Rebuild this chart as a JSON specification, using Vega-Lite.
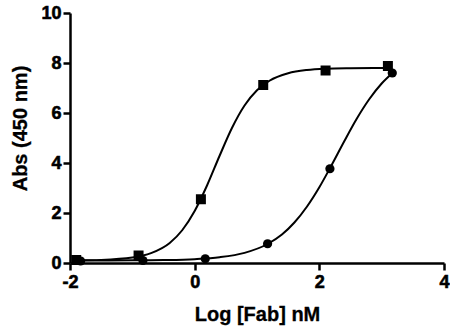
{
  "$schema": "https://vega.github.io/schema/vega-lite/v6.json",
  "width": 374,
  "height": 250,
  "autosize": {"type": "none"},
  "padding": {"left": 70, "top": 13, "right": 6, "bottom": 66},
  "background": "white",
  "config": {
    "view": {"stroke": null},
    "font": "Liberation Sans",
    "style": {
      "guide-label": {"font": "Liberation Sans", "fontWeight": "bold", "fontSize": 18, "fill": "black", "stroke": "black", "strokeWidth": 0.6},
      "guide-title": {"font": "Liberation Sans", "fontWeight": "bold", "fontSize": 20, "fill": "black", "stroke": "black", "strokeWidth": 0.3}
    }
  },
  "datasets": {
    "points": [
      {"series": "A", "x": -1.9, "y": 0.12},
      {"series": "A", "x": -0.9, "y": 0.3},
      {"series": "A", "x": 0.1, "y": 2.55},
      {"series": "A", "x": 1.1, "y": 7.12},
      {"series": "A", "x": 2.1, "y": 7.7},
      {"series": "A", "x": 3.1, "y": 7.88},
      {"series": "B", "x": -1.83, "y": 0.08},
      {"series": "B", "x": -0.83, "y": 0.1},
      {"series": "B", "x": 0.17, "y": 0.17},
      {"series": "B", "x": 1.17, "y": 0.77},
      {"series": "B", "x": 2.17, "y": 3.77},
      {"series": "B", "x": 3.17, "y": 7.6}
    ],
    "curves": [
      {"series": "A", "x": -1.9, "y": 0.107},
      {"series": "A", "x": -1.5, "y": 0.125},
      {"series": "A", "x": -1.0, "y": 0.218},
      {"series": "A", "x": -0.7, "y": 0.393},
      {"series": "A", "x": -0.4, "y": 0.8},
      {"series": "A", "x": -0.2, "y": 1.31},
      {"series": "A", "x": 0.0, "y": 2.08},
      {"series": "A", "x": 0.2, "y": 3.11},
      {"series": "A", "x": 0.4, "y": 4.29},
      {"series": "A", "x": 0.6, "y": 5.41},
      {"series": "A", "x": 0.8, "y": 6.3},
      {"series": "A", "x": 1.0, "y": 6.91},
      {"series": "A", "x": 1.2, "y": 7.29},
      {"series": "A", "x": 1.5, "y": 7.59},
      {"series": "A", "x": 1.8, "y": 7.72},
      {"series": "A", "x": 2.1, "y": 7.77},
      {"series": "A", "x": 2.5, "y": 7.79},
      {"series": "A", "x": 3.1, "y": 7.8},
      {"series": "B", "x": -1.83, "y": 0.101},
      {"series": "B", "x": -1.0, "y": 0.106},
      {"series": "B", "x": -0.5, "y": 0.118},
      {"series": "B", "x": 0.0, "y": 0.154},
      {"series": "B", "x": 0.4, "y": 0.23},
      {"series": "B", "x": 0.8, "y": 0.406},
      {"series": "B", "x": 1.17, "y": 0.76},
      {"series": "B", "x": 1.4, "y": 1.14},
      {"series": "B", "x": 1.6, "y": 1.62},
      {"series": "B", "x": 1.8, "y": 2.25},
      {"series": "B", "x": 2.0, "y": 3.03},
      {"series": "B", "x": 2.2, "y": 3.93},
      {"series": "B", "x": 2.4, "y": 4.87},
      {"series": "B", "x": 2.6, "y": 5.77},
      {"series": "B", "x": 2.8, "y": 6.55},
      {"series": "B", "x": 3.0, "y": 7.18},
      {"series": "B", "x": 3.17, "y": 7.59}
    ]
  },
  "encoding": {
    "x": {
      "field": "x",
      "type": "quantitative",
      "scale": {"domain": [-2, 4], "nice": false, "zero": false},
      "axis": {
        "values": [-2, 0, 2, 4],
        "labelExpr": "replace(datum.label, '\u2212', '-')",
        "title": "Log [Fab] nM",
        "grid": false,
        "domainColor": "black", "domainWidth": 2.5,
        "tickColor": "black", "tickWidth": 2.5, "tickSize": 7,
        "labelFont": "Liberation Sans", "labelFontWeight": 700, "labelFontSize": 18, "labelColor": "black",
        "labelPadding": 3, "labelFlush": false,
        "titleFont": "Liberation Sans", "titleFontWeight": "bold", "titleFontSize": 20, "titleColor": "black",
        "titlePadding": 13
      }
    },
    "y": {
      "field": "y",
      "type": "quantitative",
      "scale": {"domain": [0, 10], "nice": false},
      "axis": {
        "values": [0, 2, 4, 6, 8, 10],
        "title": "Abs (450 nm)",
        "grid": false,
        "domainColor": "black", "domainWidth": 2.5,
        "tickColor": "black", "tickWidth": 2.5, "tickSize": 7,
        "labelFont": "Liberation Sans", "labelFontWeight": 700, "labelFontSize": 18, "labelColor": "black",
        "labelPadding": 2, "labelFlush": false,
        "titleFont": "Liberation Sans", "titleFontWeight": "bold", "titleFontSize": 20, "titleColor": "black",
        "titlePadding": 10,
        "titleY": 115
      }
    }
  },
  "layer": [
    {
      "data": {"name": "curves"},
      "mark": {"type": "line", "color": "black", "strokeWidth": 2, "interpolate": "monotone"},
      "encoding": {"detail": {"field": "series", "type": "nominal"}}
    },
    {
      "data": {"name": "points"},
      "transform": [{"filter": "datum.series === 'A'"}],
      "mark": {"type": "point", "shape": "square", "filled": true, "color": "black", "opacity": 1, "size": 100}
    },
    {
      "data": {"name": "points"},
      "transform": [{"filter": "datum.series === 'B'"}],
      "mark": {"type": "point", "shape": "circle", "filled": true, "color": "black", "opacity": 1, "size": 85}
    }
  ]
}
